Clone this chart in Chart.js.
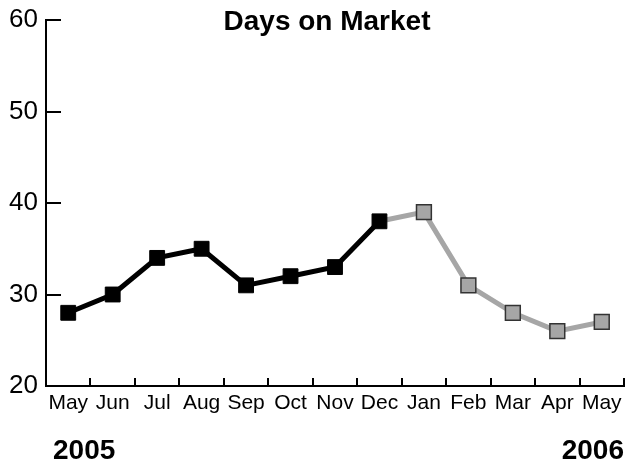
<!DOCTYPE html>
<html>
<head>
<meta charset="utf-8">
<script src="https://cdn.jsdelivr.net/npm/chart.js@4/dist/chart.umd.min.js"></script>
<style>
  html, body { margin: 0; padding: 0; background: #fff; }
  #wrap { width: 626px; height: 464px; }
</style>
</head>
<body>
<div id="wrap"><canvas id="chart"></canvas></div>
<script>
// 月ラベル.
const Months = ['May','Jun','Jul','Aug','Sep','Oct','Nov','Dec','Jan','Feb','Mar','Apr','May'];
// 2005年 (黒).
const Days2005 = [28, 30, 34, 35, 31, 32, 33, 38, null, null, null, null, null];
// 2006年 (灰) Dec から繋ぐ.
const Days2006 = [null, null, null, null, null, null, null, 38, 39, 31, 28, 26, 27];
const YearLabels = ['2005', '2006'];
const TitleText = 'Days on Market';

const FontName = '"Liberation Sans", Arial, sans-serif';

// 内向きの目盛りとタイトル・年ラベル.
const decoPlugin = {
  id: 'deco',
  afterDraw(chart) {
    const ctx = chart.ctx;
    const x = chart.scales.x;
    const y = chart.scales.y;
    const area = chart.chartArea;
    ctx.save();
    ctx.strokeStyle = '#000';
    ctx.lineWidth = 2;
    // y 目盛り.
    y.ticks.forEach(function(t) {
      const py = Math.round(y.getPixelForValue(t.value));
      if (py >= area.bottom - 1) return;
      ctx.beginPath();
      ctx.moveTo(area.left, py);
      ctx.lineTo(area.left + 15, py);
      ctx.stroke();
    });
    // x 目盛り (カテゴリの境界).
    const step = (area.right - area.left) / Months.length;
    for (let i = 1; i <= Months.length; i++) {
      const px = Math.round(area.left + step * i);
      ctx.beginPath();
      ctx.moveTo(px, area.bottom);
      ctx.lineTo(px, area.bottom - 8);
      ctx.stroke();
    }
    // タイトル.
    ctx.fillStyle = '#000';
    ctx.textBaseline = 'middle';
    ctx.textAlign = 'center';
    ctx.font = 'bold 28px ' + FontName;
    ctx.fillText(TitleText, 327, 22);
    // 年.
    ctx.textAlign = 'left';
    ctx.fillText(YearLabels[0], 53, 451);
    ctx.textAlign = 'right';
    ctx.fillText(YearLabels[1], 624, 451);
    ctx.restore();
  }
};

new Chart(document.getElementById('chart'), {
  type: 'line',
  data: {
    labels: Months,
    datasets: [
      {
        label: '2005',
        data: Days2005,
        borderColor: '#000',
        backgroundColor: '#000',
        borderWidth: 5,
        pointStyle: 'rect',
        pointRadius: 10.5,
        pointBorderWidth: 1,
        pointBorderColor: '#000',
        pointBackgroundColor: '#000',
        spanGaps: false,
      },
      {
        label: '2006',
        data: Days2006,
        borderColor: '#a6a6a6',
        backgroundColor: '#a6a6a6',
        borderWidth: 5,
        pointStyle: 'rect',
        pointRadius: Days2006.map(function(v, i) { return i === 7 ? 0 : 10.5; }),
        pointBorderWidth: 1.5,
        pointBorderColor: '#333',
        pointBackgroundColor: '#a6a6a6',
        spanGaps: false,
      },
    ],
  },
  options: {
    responsive: true,
    maintainAspectRatio: false,
    animation: false,
    layout: { autoPadding: false, padding: { top: 20, right: 2, bottom: 0, left: 0 } },
    plugins: {
      legend: { display: false },
      tooltip: { enabled: false },
      title: { display: false },
    },
    scales: {
      x: {
        offset: true,
        grid: { display: false, drawTicks: false },
        border: { display: true, color: '#000', width: 2 },
        ticks: {
          color: '#000',
          padding: 5,
          maxRotation: 0,
          autoSkip: false,
          font: { family: FontName, size: 21 },
        },
        afterFit: function(scale) {
          scale.height = 78;
          scale.paddingLeft = 0;
          scale.paddingRight = 0;
        },
      },
      y: {
        min: 20,
        max: 60,
        grid: { display: false, drawTicks: false },
        border: { display: true, color: '#000', width: 2 },
        ticks: {
          stepSize: 10,
          color: '#000',
          padding: 8,
          font: { family: FontName, size: 26 },
        },
        afterFit: function(scale) {
          scale.width = 46;
          scale.paddingTop = 0;
          scale.paddingBottom = 0;
        },
      },
    },
  },
  plugins: [decoPlugin],
});
</script>
</body>
</html>
